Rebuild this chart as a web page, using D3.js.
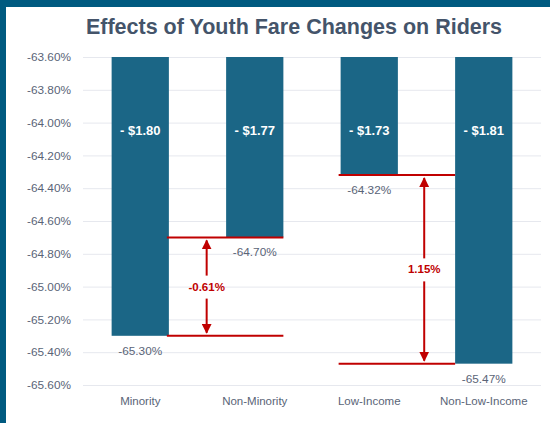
<!DOCTYPE html>
<html>
<head>
<meta charset="utf-8">
<script src="https://cdn.jsdelivr.net/npm/d3@7"></script>
<style>
	body { margin: 0; background: #fff; }
	svg { display: block; font-family: 'Liberation Sans', Arial, sans-serif; }
</style>
</head>
<body>
<svg id="chart" width="550" height="423"></svg>
<script>
const categories = ['Minority', 'Non-Minority', 'Low-Income', 'Non-Low-Income'];
const values = [-65.30, -64.70, -64.32, -65.47];
const fareChanges = ['- $1.80', '- $1.77', '- $1.73', '- $1.81'];
const yTicks = [-63.6, -63.8, -64.0, -64.2, -64.4, -64.6, -64.8, -65.0, -65.2, -65.4, -65.6];
// comparisons between two bars: indexes and the printed difference
const gapPairs = [[0, 1], [2, 3]];
const gapLabels = ['-0.61%', '1.15%'];

const svg = d3.select('#chart');
const width = 550;
const height = 423;
const margin = { top: 57, right: 9, bottom: 38, left: 83 };
const red = '#c00000';
const labelColor = '#5a6477';

// frame on the left and top
svg.append('rect').attr('width', width).attr('height', height).attr('fill', '#005a80');
svg.append('rect').attr('x', 6).attr('y', 7).attr('width', width - 6).attr('height', height - 7).attr('fill', '#fff');

svg.append('text')
	.attr('x', 294)
	.attr('y', 34)
	.attr('text-anchor', 'middle')
	.style('font-size', '21.5px')
	.style('font-weight', 'bold')
	.style('fill', '#44546a')
	.text('Effects of Youth Fare Changes on Riders');

const x = d3.scaleBand().domain(categories).range([margin.left, width - margin.right]).paddingInner(0.5).paddingOuter(0.25);
const y = d3.scaleLinear().domain([-63.6, -65.6]).range([margin.top, height - margin.bottom]);

const yAxis = svg.append('g')
	.attr('transform', 'translate(' + margin.left + ',0)')
	.call(d3.axisLeft(y).tickValues(yTicks).tickSize(-(width - margin.left - margin.right)).tickFormat((d) => d.toFixed(2) + '%'));
yAxis.select('.domain').remove();
yAxis.selectAll('line').attr('stroke', '#e6e8ee');
yAxis.selectAll('text').attr('x', -12).style('font-size', '11.8px').style('fill', labelColor).style('font-family', 'Liberation Sans, Arial, sans-serif');

const xAxis = svg.append('g')
	.attr('transform', 'translate(0,' + (height - margin.bottom) + ')')
	.call(d3.axisBottom(x).tickSize(0).tickPadding(12));
xAxis.select('.domain').remove();
xAxis.selectAll('text').style('font-size', '11.5px').style('fill', labelColor).style('font-family', 'Liberation Sans, Arial, sans-serif');

const bars = svg.append('g').selectAll('g').data(categories).enter().append('g');

bars.append('rect')
	.attr('x', (d) => x(d))
	.attr('y', y(-63.6))
	.attr('width', x.bandwidth())
	.attr('height', (d, i) => y(values[i]) - y(-63.6))
	.attr('fill', '#1b6686');

bars.append('text')
	.attr('x', (d) => x(d) + x.bandwidth() / 2)
	.attr('y', 135)
	.attr('text-anchor', 'middle')
	.style('font-size', '13px')
	.style('font-weight', 'bold')
	.style('fill', '#fff')
	.text((d, i) => fareChanges[i]);

bars.append('text')
	.attr('x', (d) => x(d) + x.bandwidth() / 2)
	.attr('y', (d, i) => y(values[i]) + 19)
	.attr('text-anchor', 'middle')
	.style('font-size', '11.8px')
	.style('fill', labelColor)
	.text((d, i) => values[i].toFixed(2) + '%');

// arrow heads
svg.append('defs').append('marker')
	.attr('id', 'arrow')
	.attr('viewBox', '0 0 10 10')
	.attr('refX', 9)
	.attr('refY', 5)
	.attr('markerWidth', 5)
	.attr('markerHeight', 5)
	.attr('orient', 'auto-start-reverse')
	.append('path')
	.attr('d', 'M0,0 L10,5 L0,10 z')
	.attr('fill', red);

// first pair is joined at the right edges, second at the left edges
const anchorRight = [true, false];
const arrowAt = [0.33, 0.73];

gapPairs.forEach((pair, k) => {
	const ca = categories[pair[0]];
	const cb = categories[pair[1]];
	const off = anchorRight[k] ? x.bandwidth() : 0;
	const x1 = x(ca) + off;
	const x2 = x(cb) + off;
	const ya = y(values[pair[0]]);
	const yb = y(values[pair[1]]);
	const ax = x1 + (x2 - x1) * arrowAt[k];
	const top = Math.min(ya, yb);
	const bottom = Math.max(ya, yb);
	const textY = (top + bottom) / 2 + 4;

	const grp = svg.append('g');
	[ya, yb].forEach((yy) => {
		grp.append('line')
			.attr('x1', x1 - 2).attr('x2', x2)
			.attr('y1', yy).attr('y2', yy)
			.attr('stroke', red).attr('stroke-width', 2);
	});
	grp.append('line')
		.attr('x1', ax).attr('x2', ax)
		.attr('y1', top + 3).attr('y2', textY - 15)
		.attr('stroke', red).attr('stroke-width', 2)
		.attr('marker-start', 'url(#arrow)');
	grp.append('line')
		.attr('x1', ax).attr('x2', ax)
		.attr('y1', textY + 8).attr('y2', bottom - 3)
		.attr('stroke', red).attr('stroke-width', 2)
		.attr('marker-end', 'url(#arrow)');
	grp.append('text')
		.attr('x', ax)
		.attr('y', textY)
		.attr('text-anchor', 'middle')
		.style('font-size', '11.5px')
		.style('font-weight', 'bold')
		.style('fill', red)
		.text(gapLabels[k]);
});
</script>
</body>
</html>
